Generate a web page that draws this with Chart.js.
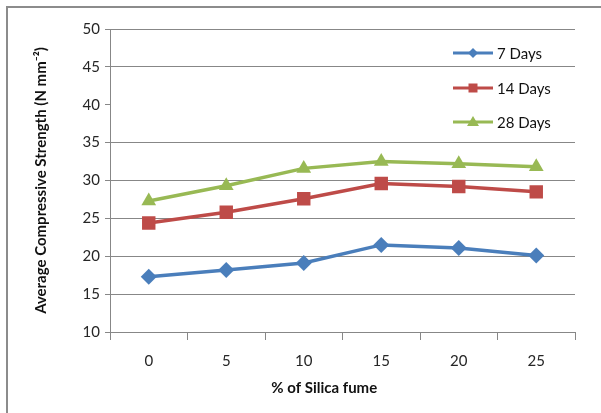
<!DOCTYPE html>
<html>
<head>
<meta charset="utf-8">
<script src="https://cdn.jsdelivr.net/npm/chart.js@4.4.1/dist/chart.umd.min.js"></script>
<style>
  html, body { margin: 0; padding: 0; background: #fff; }
  #wrap { position: relative; width: 601px; height: 413px; }
</style>
</head>
<body>
<div id="wrap"><canvas id="chart" width="601" height="413"></canvas></div>
<script>
/* valores */
const silicaFume = ["0", "5", "10", "15", "20", "25"];
const days7 = [17.3, 18.2, 19.1, 21.5, 21.1, 20.1];
const days14 = [24.4, 25.8, 27.6, 29.6, 29.2, 28.5];
const days28 = [27.3, 29.3, 31.6, 32.5, 32.2, 31.8];
const seriesNames = ["7 Days", "14 Days", "28 Days"];
const yMin = 10, yMax = 50, yStep = 5;

const GRID = "#878787";
const FONT = "Lato, 'Open Sans', sans-serif";

/* borda externa + legenda desenhada dentro da área */
const frameAndLegend = {
  id: "frameAndLegend",
  beforeDraw(chart) {
    const c = chart.ctx;
    c.save();
    c.strokeStyle = "#8c8c8c";
    c.lineWidth = 2;
    c.beginPath();
    c.moveTo(7, 413);
    c.lineTo(7, 7);
    c.lineTo(601, 7);
    c.stroke();
    c.restore();
  },
  afterDraw(chart) {
    const c = chart.ctx;
    const rows = [53, 88, 122];
    c.save();
    chart.data.datasets.forEach((ds, i) => {
      const y = rows[i];
      c.strokeStyle = ds.borderColor;
      c.fillStyle = ds.borderColor;
      c.lineWidth = 3;
      c.beginPath();
      c.moveTo(453, y);
      c.lineTo(493, y);
      c.stroke();
      const x = 473;
      c.beginPath();
      if (ds.pointStyle === "rectRot") {
        c.moveTo(x, y - 5); c.lineTo(x + 5, y); c.lineTo(x, y + 5); c.lineTo(x - 5, y);
      } else if (ds.pointStyle === "rect") {
        c.rect(x - 4.5, y - 4.5, 9, 9);
      } else {
        c.moveTo(x, y - 6); c.lineTo(x + 6, y + 4); c.lineTo(x - 6, y + 4);
      }
      c.closePath();
      c.fill();
      c.fillStyle = "#111";
      c.font = "15px " + FONT;
      c.textBaseline = "middle";
      c.textAlign = "left";
      c.fillText(ds.label, 497, y + 1);
    });
    c.restore();
  }
};

function makeSet(label, data, color, style, radius) {
  return {
    label: label,
    data: data,
    borderColor: color,
    backgroundColor: color,
    borderWidth: 3.5,
    pointStyle: style,
    pointRadius: radius,
    pointHoverRadius: radius,
    pointBorderWidth: 0,
    tension: 0
  };
}

new Chart(document.getElementById("chart"), {
  type: "line",
  data: {
    labels: silicaFume,
    datasets: [
      makeSet(seriesNames[0], days7, "#4a7ebb", "rectRot", 8),
      makeSet(seriesNames[1], days14, "#be4b48", "rect", 9.5),
      makeSet(seriesNames[2], days28, "#98b954", "triangle", 8.5)
    ]
  },
  options: {
    responsive: false,
    animation: false,
    layout: { padding: { left: 0, right: 26, top: 29, bottom: 0 } },
    plugins: {
      legend: { display: false },
      tooltip: { enabled: false }
    },
    scales: {
      x: {
        offset: true,
        grid: {
          offset: true,
          drawOnChartArea: false,
          tickLength: 8,
          color: GRID
        },
        border: { color: GRID, width: 1 },
        ticks: { color: "#262626", font: { family: FONT, size: 15 }, padding: 12 },
        title: {
          display: true,
          // espaços finais deslocam o título um pouco à esquerda, como no original
          text: "% of Silica fume" + "\u00A0".repeat(10),
          color: "#111",
          font: { family: FONT, size: 15, weight: "bold" },
          padding: { bottom: 16 }
        },
        afterFit(scale) { scale.height = 81; }
      },
      y: {
        min: yMin,
        max: yMax,
        ticks: {
          stepSize: yStep,
          color: "#262626",
          font: { family: FONT, size: 15 },
          padding: 5
        },
        grid: {
          color: (ctx) => (ctx.tick && ctx.tick.value === 40 ? "rgba(0,0,0,0)" : GRID),
          tickColor: GRID,
          tickLength: 5,
          lineWidth: 1
        },
        border: { color: GRID, width: 1 },
        title: {
          display: true,
          text: "Average Compressive Strength (N mm\u207B\u00B2)",
          color: "#111",
          font: { family: FONT, size: 15, weight: "bold" },
          padding: { top: 32 }
        },
        afterFit(scale) { scale.width = 110; }
      }
    }
  },
  plugins: [frameAndLegend]
});
</script>
</body>
</html>
